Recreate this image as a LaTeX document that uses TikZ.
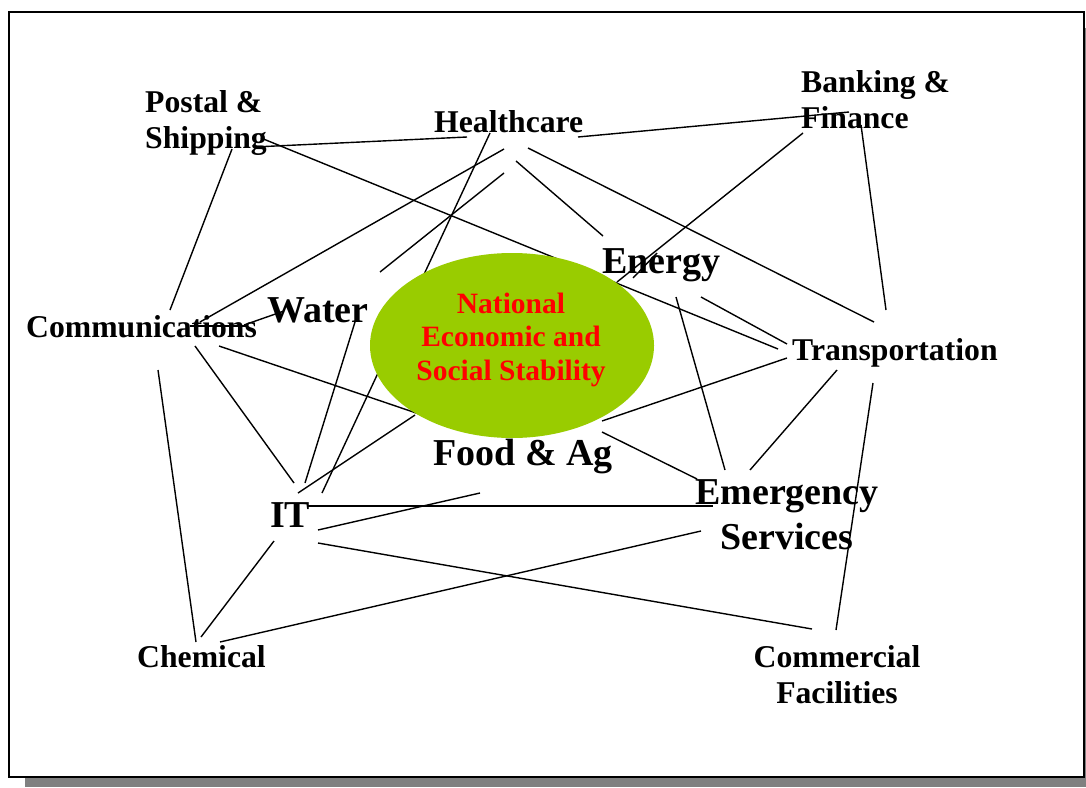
\documentclass[tikz,border=0pt]{standalone}
\usepackage{fontspec}
\setmainfont{Liberation Serif}
\definecolor{ellgreen}{RGB}{153,204,0}
\definecolor{shadowgray}{RGB}{128,128,128}
\newcommand\mlt[2]{\begin{tabular}[t]{@{}#1@{}}#2\end{tabular}}
\newcommand\link[3]{\coordinate (#1a) at (#2); \coordinate (#1b) at (#3); \draw[link] (#1a) -- (#1b);}
\begin{document}
\begin{tikzpicture}[x=1pt,y=-1pt,
  link/.style={line width=1.4pt},
  small/.style={inner sep=0pt, font=\fontsize{31.7}{36.5}\selectfont\bfseries},
  big/.style={inner sep=0pt, font=\fontsize{38}{45}\selectfont\bfseries},
  ctr/.style={inner sep=0pt, text=red, font=\fontsize{29.5}{33.5}\selectfont\bfseries}]
\useasboundingbox (0,0) rectangle (1086,787);
% shadow and frame
\fill[shadowgray] (25,28) rectangle (1086,787);
\draw[line width=2pt, fill=white] (9,12) rectangle (1084,777);
% connectors
\link{ps1}{254,147}{467,137}
\link{ps2}{232,149}{170,310}
\link{ps3}{261,138}{778,349}
\link{hb}{578,137}{849,112}
\link{bt}{861,125}{886,310}
\link{be}{803,133}{617,282}
\link{bx}{633,278}{657,253}
\link{he}{516,161}{603,236}
\link{ht}{528,148}{874,322}
\link{hc}{504,149}{200,322}
\link{hw}{504,173}{380,272}
\link{hi}{490,133}{322,493}
\link{cwa}{190,326}{247,326}
\link{cwb}{244,325}{284,311}
\link{cch}{158,370}{196,642}
\link{ci}{195,346}{294,483}
\link{cf}{219,346}{425,416}
\link{wi}{355,322}{305,483}
\link{ie}{298,493}{415,415}
\link{iem}{308,506}{713,506}
\link{ifa}{318,530}{480,493}
\link{ich}{274,541}{201,637}
\link{ico}{318,543}{812,629}
\link{chem}{220,642}{701,531}
\link{fem}{602,432}{697,479}
\link{eem}{676,297}{725,470}
\link{et}{701,297}{787,344}
\link{tf}{787,358}{602,421}
\link{tem}{837,370}{750,470}
\link{tco}{873,383}{836,630}
% centre ellipse
\fill[ellgreen] (512,345.5) ellipse [x radius=142, y radius=92.5];
% labels
\node[small, anchor=base west] (postal) at (145,112) {\mlt{l}{Postal \&\\Shipping}};
\node[small, anchor=base west] (health) at (434,132) {Healthcare};
\node[small, anchor=base west] (bank) at (801,92) {\mlt{l}{Banking \&\\Finance}};
\node[small, anchor=base west] (comm) at (26,337) {Communications};
\node[big, anchor=base west] (water) at (267,322) {Water};
\node[big, anchor=base west] (energy) at (602,273) {Energy};
\node[small, anchor=base west] (trans) at (792,360) {Transportation};
\node[big, anchor=base west] (food) at (433,465) {Food \& Ag};
\node[big, anchor=base west] (it) at (270,527) {IT};
\node[small, anchor=base west] (chem) at (137,667) {Chemical};
\node[small, anchor=base] (commf) at (837,667) {\mlt{c}{Commercial\\Facilities}};
\node[big, anchor=base] (emerg) at (787,504) {\mlt{c}{Emergency\\Services}};
\node[ctr, anchor=base] (nat) at (511,313) {\mlt{c}{National\\Economic and\\Social Stability}};
\end{tikzpicture}
\end{document}
